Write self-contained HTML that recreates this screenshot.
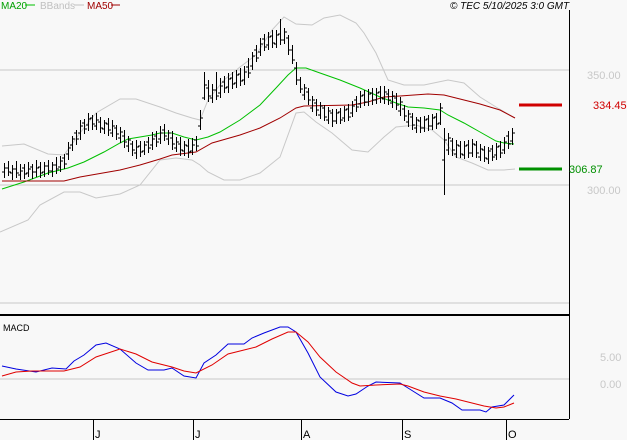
<!DOCTYPE html>
<html><head><meta charset="utf-8"><style>
html,body{margin:0;padding:0;background:#f8f8f8;}
svg{display:block;font-family:"Liberation Sans",sans-serif;}
</style></head><body>
<svg width="627" height="440" xmlns="http://www.w3.org/2000/svg">
<rect width="627" height="440" fill="#f8f8f8"/>
<line x1="0" y1="70" x2="569" y2="70" stroke="#c8c8c8"/>
<line x1="0" y1="185" x2="569" y2="185" stroke="#c8c8c8"/>
<line x1="0" y1="303" x2="569" y2="303" stroke="#c8c8c8"/>
<line x1="0" y1="379" x2="569" y2="379" stroke="#c8c8c8"/>
<line x1="0" y1="315" x2="569" y2="315" stroke="#000" stroke-width="2"/>
<line x1="569.5" y1="10" x2="569.5" y2="419" stroke="#000"/>
<line x1="0" y1="419.5" x2="569" y2="419.5" stroke="#000"/>
<polyline fill="none" stroke="#c8c8c8" points="2,146 24,144 48,154 64,155 80,133 96,113 120,99 136,99 160,107 176,113 192,118 200,120 208,100 224,80 240,67 256,55 272,30 284,17 296,24 312,25 324,18 340,15 356,23 364,33 376,53 388,80 404,85 424,85 448,80 464,83 480,97 496,107 515,118"/>
<polyline fill="none" stroke="#c8c8c8" points="0,232 28,220 40,205 64,192 80,192 96,198 120,194 140,185 160,160 176,158 192,160 200,165 208,172 224,180 240,180 260,173 280,157 296,113 304,112 316,122 332,133 352,150 368,152 384,137 396,127 416,125 432,130 444,140 456,157 472,163 488,170 504,170 515,169"/>
<polyline fill="none" stroke="#00c000" points="2,189 24,182 48,173 68,168 84,162 104,152 120,143 128,139 152,135 160,133 172,133 184,137 196,140 208,137 220,132 240,120 260,105 276,88 288,75 296,68 306,68 320,73 340,80 360,88 380,97 396,103 408,107 424,108 440,110 448,115 464,123 480,132 496,141 504,143 514,144"/>
<polyline fill="none" stroke="#a00000" points="2,181 64,181 80,177 120,170 140,165 160,159 172,155 196,152 212,143 240,135 260,128 280,118 296,108 304,106 352,105 368,102 384,97 400,96 428,94 444,95 460,99 480,104 500,110 515,118"/>
<path fill="none" stroke="#000" stroke-width="1" shape-rendering="crispEdges" d="
M4.5 163V178M2 172H5M5 168H7
M8.5 161V176M6 168H9M9 172H11
M12.5 165V180M10 173H13M13 169H15
M16.5 161V178M14 169H17M17 173H19
M20.5 164V180M18 175H21M21 171H23
M24.5 164V179M22 168H25M25 174H27
M28.5 162V177M26 173H29M29 169H31
M32.5 164V179M30 167H33M33 172H35
M36.5 160V177M34 172H37M37 168H39
M40.5 162V178M38 167H41M41 173H43
M44.5 162V177M42 172H45M45 166H47
M48.5 160V175M46 166H49M49 171H51
M52.5 162V177M50 171H53M53 165H55
M56.5 157V174M54 165H57M57 169H59
M60.5 156V172M58 167H61M61 161H63
M64.5 154V169M62 158H65M65 164H67
M68.5 142V160M66 154H69M69 148H71
M72.5 136V151M70 145H73M73 139H75
M76.5 130V145M74 133H77M77 139H79
M80.5 120V140M78 133H81M81 126H83
M84.5 119V134M82 123H85M85 129H87
M88.5 113V131M86 125H89M89 119H91
M92.5 115V130M90 118H93M93 124H95
M96.5 113V130M94 126H97M97 120H99
M100.5 117V133M98 122H101M101 128H103
M104.5 120V134M102 129H105M105 123H107
M108.5 118V136M106 124H109M109 130H111
M112.5 120V137M110 133H113M113 126H115
M116.5 125V140M114 128H117M117 134H119
M120.5 127V143M118 138H121M121 132H123
M124.5 130V148M122 136H125M125 142H127
M128.5 136V152M126 146H129M129 140H131
M132.5 141V156M130 144H133M133 150H135
M136.5 140V159M134 153H137M137 147H139
M140.5 141V157M138 146H141M141 152H143
M144.5 141V155M142 151H145M145 145H147
M148.5 137V153M146 142H149M149 148H151
M152.5 132V150M150 145H153M153 139H155
M156.5 131V147M154 136H157M157 142H159
M160.5 126V144M158 139H161M161 133H163
M164.5 124V141M162 130H165M165 136H167
M168.5 130V145M166 139H169M169 133H171
M172.5 131V150M170 138H173M173 144H175
M176.5 137V152M174 148H177M177 142H179
M180.5 137V156M178 144H181M181 150H183
M184.5 141V156M182 151H185M185 145H187
M188.5 139V158M186 146H189M189 152H191
M192.5 138V155M190 151H193M193 145H195
M196.5 136V151M194 140H197M197 146H199
M200.5 110V130M198 126H201M201 118H203
M204.5 72V100M202 98H205M205 85H207
M208.5 80V102M206 88H209M209 96H211
M212.5 84V103M210 98H213M213 90H215
M216.5 72V100M214 90H217M217 96H219
M220.5 78V98M218 93H221M221 86H223
M224.5 76V93M222 82H225M225 88H227
M228.5 73V93M226 87H229M229 79H231
M232.5 72V89M230 78H233M233 84H235
M236.5 70V88M234 83H237M237 75H239
M240.5 68V86M238 74H241M241 81H243
M244.5 66V85M242 80H245M245 72H247
M248.5 58V78M246 67H249M249 73H251
M252.5 52V70M250 66H253M253 56H255
M256.5 45V62M254 50H257M257 58H259
M260.5 38V56M258 52H261M261 44H263
M264.5 34V51M262 39H265M265 47H267
M268.5 32V50M266 45H269M269 37H271
M272.5 30V48M270 36H273M273 43H275
M276.5 30V48M274 44H277M277 35H279
M280.5 19V45M278 34H281M281 40H283
M284.5 28V44M282 40H285M285 32H287
M288.5 35V55M286 38H289M289 50H291
M292.5 45V64M290 50H293M293 60H295
M296.5 62V85M294 68H297M297 80H299
M300.5 77V93M298 80H301M301 89H303
M304.5 84V100M302 95H305M305 88H307
M308.5 88V105M306 92H309M309 100H311
M312.5 96V112M310 108H313M313 100H315
M316.5 99V116M314 103H317M317 110H319
M320.5 102V119M318 115H321M321 106H323
M324.5 105V121M322 108H325M325 117H327
M328.5 107V124M326 120H329M329 111H331
M332.5 109V127M330 113H333M333 121H335
M336.5 109V124M334 121H337M337 113H339
M340.5 108V124M338 112H341M341 120H343
M344.5 106V122M342 118H345M345 110H347
M348.5 104V121M346 109H349M349 117H351
M352.5 101V117M350 113H353M353 106H355
M356.5 96V112M354 100H357M357 107H359
M360.5 91V108M358 104H361M361 96H363
M364.5 90V106M362 95H365M365 102H367
M368.5 89V106M366 102H369M369 94H371
M372.5 88V105M370 93H373M373 100H375
M376.5 88V104M374 100H377M377 93H379
M380.5 86V103M378 92H381M381 98H383
M384.5 86V104M382 99H385M385 92H387
M388.5 89V105M386 94H389M389 100H391
M392.5 91V108M390 103H393M393 96H395
M396.5 93V110M394 98H397M397 105H399
M400.5 97V116M398 111H401M401 102H403
M404.5 105V121M402 109H405M405 116H407
M408.5 110V127M406 122H409M409 114H411
M412.5 113V130M410 117H413M413 125H415
M416.5 117V133M414 128H417M417 120H419
M420.5 117V133M418 121H421M421 128H423
M424.5 116V132M422 128H425M425 120H427
M428.5 115V131M426 119H429M429 126H431
M432.5 114V130M430 126H433M433 118H435
M436.5 113V129M434 117H437M437 124H439
M440.5 103V125M438 123H441M441 108H443
M444.5 128V195M442 160H445M445 140H447
M448.5 133V155M446 150H449M449 138H451
M452.5 138V156M450 141H453M453 150H455
M456.5 140V158M454 154H457M457 145H459
M460.5 141V158M458 146H461M461 154H463
M464.5 141V159M462 155H465M465 146H467
M468.5 140V158M466 145H469M469 153H471
M472.5 139V157M470 153H473M473 144H475
M476.5 141V158M474 145H477M477 153H479
M480.5 144V161M478 157H481M481 149H483
M484.5 146V162M482 150H485M485 158H487
M488.5 147V164M486 159H489M489 151H491
M492.5 145V161M490 149H493M493 157H495
M496.5 143V160M494 155H497M497 147H499
M500.5 141V158M498 146H501M501 153H503
M504.5 137V154M502 150H505M505 142H507
M508.5 131V149M506 136H509M509 144H511
M512.5 128V145M510 141H513M513 133H515"/>
<line x1="519" y1="105" x2="562" y2="105" stroke="#d00000" stroke-width="3"/>
<text x="593" y="109" font-size="11" fill="#d00000">334.45</text>
<line x1="519" y1="169" x2="562" y2="169" stroke="#009000" stroke-width="3"/>
<text x="569" y="173" font-size="11" fill="#009000">306.87</text>
<text x="587" y="79" font-size="11" fill="#c8c8c8">350.00</text>
<text x="587" y="194" font-size="11" fill="#c8c8c8">300.00</text>
<text x="600" y="361" font-size="11" fill="#c8c8c8">5.00</text>
<text x="600" y="388" font-size="11" fill="#c8c8c8">0.00</text>
<text x="1" y="9" font-size="10" fill="#00a000">MA20</text>
<line x1="25" y1="5" x2="35" y2="5" stroke="#00c000"/>
<text x="40" y="9" font-size="10" fill="#c0c0c0">BBands</text>
<line x1="74" y1="5" x2="84" y2="5" stroke="#c0c0c0"/>
<text x="87" y="9" font-size="10" fill="#a00000">MA50</text>
<line x1="111" y1="5" x2="120" y2="5" stroke="#a00000"/>
<text x="450" y="9" font-size="10" font-style="italic" fill="#000">© TEC 5/10/2025 3:0 GMT</text>
<text x="3" y="331" font-size="9" fill="#000">MACD</text>
<polyline fill="none" stroke="#0000e0" points="2,366 16,369 36,372 52,368 66,369 74,361 84,355 96,345 106,343 120,349 136,363 148,370 164,370 172,368 184,376 196,378 204,363 216,355 228,344 244,344 252,338 264,333 280,327 288,327 296,332 308,353 320,377 336,392 348,396 356,394 368,386 376,382 400,383 408,388 424,398 440,398 452,403 462,410 480,410 486,412 492,407 504,405 514,395"/>
<polyline fill="none" stroke="#e00000" points="2,376 16,372 32,371 64,371 80,367 96,357 120,349 136,354 152,362 172,367 184,371 196,373 212,365 228,354 240,351 256,347 272,339 288,332 296,332 308,342 320,357 336,372 352,383 360,386 376,385 400,384 408,386 424,392 440,396 456,399 468,402 484,406 496,408 504,407 514,403"/>
<g stroke="#000"><line x1="93.5" y1="419" x2="93.5" y2="440"/><line x1="193.5" y1="419" x2="193.5" y2="440"/><line x1="301.5" y1="419" x2="301.5" y2="440"/><line x1="402.5" y1="419" x2="402.5" y2="440"/><line x1="506.5" y1="419" x2="506.5" y2="440"/></g>
<g font-size="11" fill="#000"><text x="95" y="438">J</text><text x="195" y="438">J</text><text x="303" y="438">A</text><text x="404" y="438">S</text><text x="508" y="438">O</text></g>
</svg>
</body></html>
